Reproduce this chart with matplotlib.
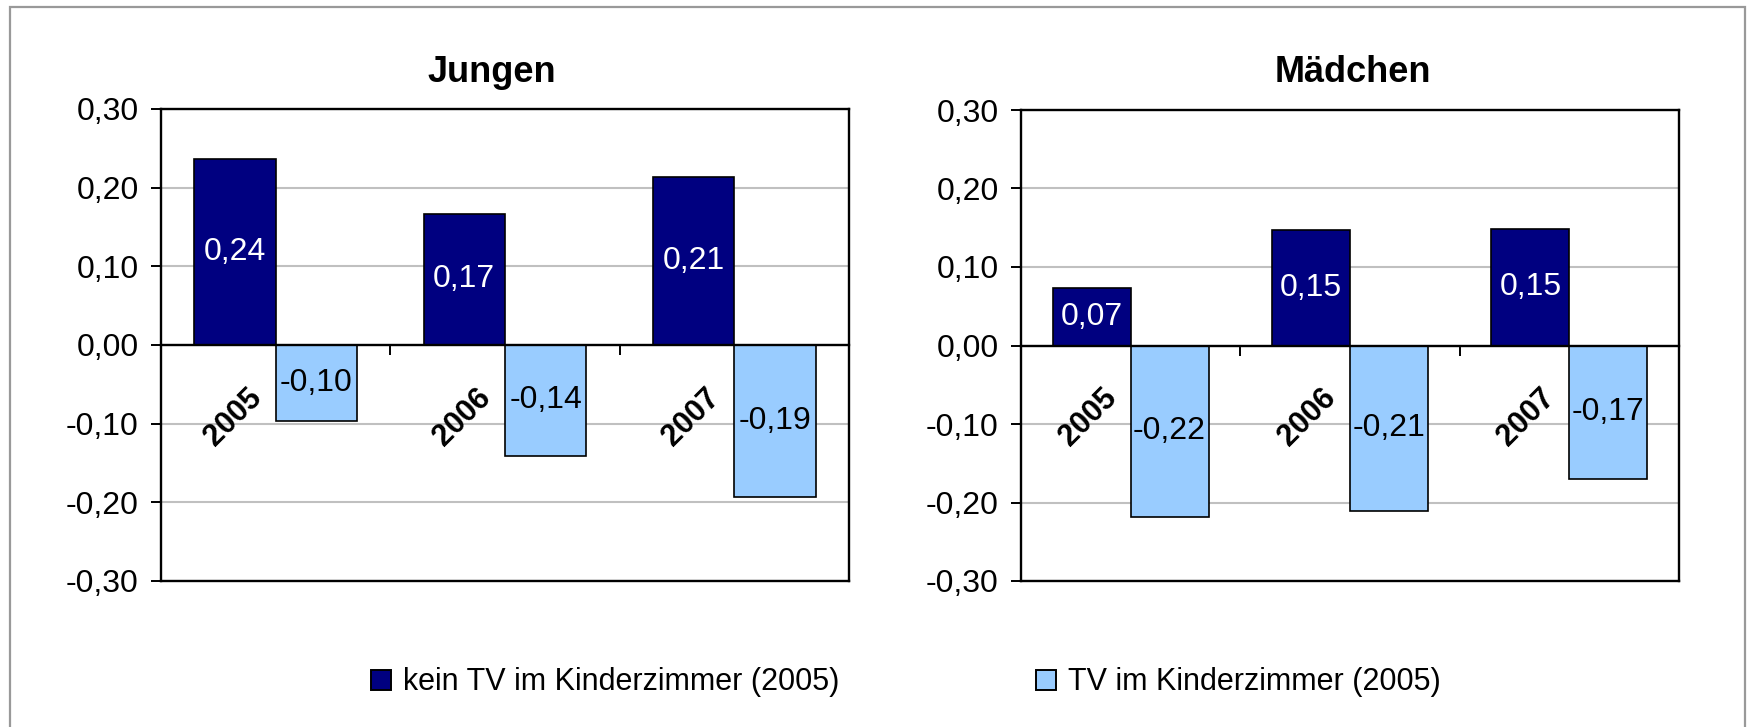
import numpy as np
import matplotlib
matplotlib.use("Agg")
import matplotlib.pyplot as plt
from matplotlib.patches import Rectangle
from matplotlib.ticker import FuncFormatter, MultipleLocator
import matplotlib.transforms as mtransforms

plt.rcParams['font.family'] = ['Liberation Sans', 'DejaVu Sans']

# data
years = ["2005", "2006", "2007"]
panel_titles = ["Jungen", "Mädchen"]
series_labels = ["kein TV im Kinderzimmer (2005)", "TV im Kinderzimmer (2005)"]
jungen_kein_tv = [0.237, 0.167, 0.214]
jungen_tv = [-0.097, -0.141, -0.193]
maedchen_kein_tv = [0.073, 0.147, 0.149]
maedchen_tv = [-0.219, -0.211, -0.170]

DARK = "#000080"
LIGHT = "#99ccff"
W, H = 1748, 727


def comma_fmt(v, pos=None):
    return f"{v:.2f}".replace(".", ",")


def draw_panel(ax, kein, tv):
    x = np.arange(len(years))
    bw = 0.355
    ax.bar(x - bw / 2, kein, bw, color=DARK, edgecolor="black", linewidth=1.2, zorder=2)
    ax.bar(x + bw / 2, tv, bw, color=LIGHT, edgecolor="black", linewidth=1.2, zorder=2)

    ax.set_xlim(-0.5, len(years) - 0.5)
    ax.set_ylim(-0.3, 0.3)
    ax.yaxis.set_major_locator(MultipleLocator(0.1))
    ax.yaxis.set_major_formatter(FuncFormatter(comma_fmt))
    ax.tick_params(axis="y", direction="out", length=7, width=1.4, pad=9, labelsize=23)
    ax.yaxis.grid(True, color="#c0c0c0", linewidth=1.5)
    ax.set_axisbelow(True)

    # category axis sits on the zero line, ticks at category borders
    ax.spines["bottom"].set_position(("data", 0))
    ax.set_xticks(np.arange(-0.5, len(years)))
    ax.set_xticklabels([])
    ax.tick_params(axis="x", direction="out", length=7, width=1.4)
    for s in ax.spines.values():
        s.set_linewidth(1.7)
        s.set_color("black")
        s.set_zorder(3)
    ax.axhline(-0.3, color="black", linewidth=1.7, clip_on=False, zorder=3)

    # rotated year labels below the zero line
    off = mtransforms.offset_copy(ax.transData, fig=ax.figure, x=-21, y=-27, units="points")
    for i, yr in enumerate(years):
        ax.text(i, 0, yr, transform=off, rotation=45, rotation_mode="anchor",
                ha="right", va="top", fontsize=22, fontweight="bold")

    # value labels centred in the bars
    for i in range(len(years)):
        ax.text(i - bw / 2, kein[i] / 2, comma_fmt(kein[i]), color="white",
                ha="center", va="center", fontsize=23, zorder=4)
        ax.text(i + bw / 2, tv[i] / 2, comma_fmt(tv[i]), color="black",
                ha="center", va="center", fontsize=23, zorder=4)


fig = plt.figure(figsize=(W / 100, H / 100), dpi=100)
fig.patch.set_facecolor("white")

# outer chart border
fig.patches.append(Rectangle((9.5 / W, -0.02), (1745 - 9.5) / W, 1 - 6.7 / H + 0.02,
                             transform=fig.transFigure, fill=False,
                             edgecolor="#999999", linewidth=1.6))

ax1 = fig.add_axes([161 / W, 1 - 581 / H, 688 / W, 472 / H])
ax2 = fig.add_axes([1021 / W, 1 - 581 / H, 658 / W, 471 / H])
draw_panel(ax1, jungen_kein_tv, jungen_tv)
draw_panel(ax2, maedchen_kein_tv, maedchen_tv)

# titles
for cx, t in zip([492, 1353], panel_titles):
    fig.text(cx / W, 1 - 82 / H, t, ha="center", va="baseline",
             fontsize=26, fontweight="bold")

# legend drawn by hand
for mx, tx, col, lab in zip([371, 1036], [403, 1068], [DARK, LIGHT], series_labels):
    fig.patches.append(Rectangle((mx / W, 1 - 690 / H), 20 / W, 20 / H,
                                 transform=fig.transFigure, facecolor=col,
                                 edgecolor="black", linewidth=1.4))
    fig.text(tx / W, 1 - 690 / H, lab, ha="left", va="baseline", fontsize=22)

fig.savefig("out.png", dpi=100)
